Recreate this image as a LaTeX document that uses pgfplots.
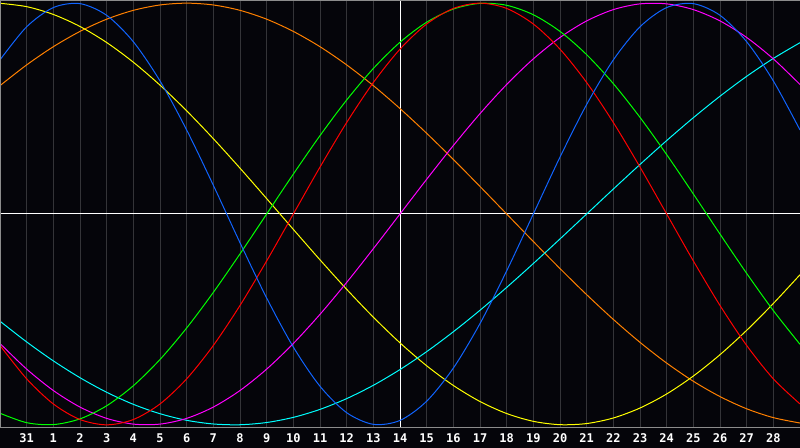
\documentclass[border=0pt]{standalone}
\usepackage{fontspec}
\setmonofont{DejaVu Sans Mono}
\usepackage{pgfplots}
\usepackage{pgfplotstable}
\pgfplotsset{compat=1.18}
\definecolor{bg}{RGB}{5,5,10}
\definecolor{gridc}{RGB}{52,52,56}
\definecolor{bordc}{RGB}{140,140,140}
\definecolor{cphys}{RGB}{16,100,255}
\definecolor{cemo}{RGB}{255,0,0}
\definecolor{cint}{RGB}{0,255,0}
\definecolor{cintu}{RGB}{255,0,255}
\definecolor{caes}{RGB}{255,255,0}
\definecolor{cawa}{RGB}{255,128,0}
\definecolor{cspi}{RGB}{0,255,255}
\pgfplotstableread{
u  phys    emo     int     intu    aes     awa     spi
0  0.7309  -0.6235 -0.9450 -0.6142 0.9993  0.6088  -0.5085
1  0.8879  -0.7818 -0.9898 -0.7357 0.9834  0.7071  -0.6068
2  0.9791  -0.9010 -0.9989 -0.8372 0.9464  0.7934  -0.6966
3  0.9977  -0.9749 -0.9718 -0.9158 0.8894  0.8660  -0.7765
4  0.9423  -1.0000 -0.9096 -0.9694 0.8133  0.9239  -0.8456
5  0.8170  -0.9749 -0.8146 -0.9966 0.7199  0.9659  -0.9028
6  0.6311  -0.9010 -0.6901 -0.9966 0.6112  0.9914  -0.9473
7  0.3984  -0.7818 -0.5406 -0.9694 0.4894  1.0000  -0.9786
8  0.1362  -0.6235 -0.3717 -0.9158 0.3572  0.9914  -0.9960
9  -0.1362 -0.4339 -0.1893 -0.8372 0.2174  0.9659  -0.9996
10 -0.3984 -0.2225 0.0000  -0.7357 0.0730  0.9239  -0.9890
11 -0.6311 0.0000  0.1893  -0.6142 -0.0730 0.8660  -0.9646
12 -0.8170 0.2225  0.3717  -0.4759 -0.2174 0.7934  -0.9267
13 -0.9423 0.4339  0.5406  -0.3247 -0.3572 0.7071  -0.8757
14 -0.9977 0.6235  0.6901  -0.1646 -0.4894 0.6088  -0.8125
15 -0.9791 0.7818  0.8146  0.0000  -0.6112 0.5000  -0.7378
16 -0.8879 0.9010  0.9096  0.1646  -0.7199 0.3827  -0.6529
17 -0.7309 0.9749  0.9718  0.3247  -0.8133 0.2588  -0.5586
18 -0.5196 1.0000  0.9989  0.4759  -0.8894 0.1305  -0.4566
19 -0.2698 0.9749  0.9898  0.6142  -0.9464 0.0000  -0.3482
20 0.0000  0.9010  0.9450  0.7357  -0.9834 -0.1305 -0.2349
21 0.2698  0.7818  0.8660  0.8372  -0.9993 -0.2588 -0.1183
22 0.5196  0.6235  0.7557  0.9158  -0.9940 -0.3827 0.0000
23 0.7309  0.4339  0.6182  0.9694  -0.9675 -0.5000 0.1183
24 0.8879  0.2225  0.4582  0.9966  -0.9203 -0.6088 0.2349
25 0.9791  0.0000  0.2817  0.9966  -0.8536 -0.7071 0.3482
26 0.9977  -0.2225 0.0951  0.9694  -0.7686 -0.7934 0.4566
27 0.9423  -0.4339 -0.0951 0.9158  -0.6673 -0.8660 0.5586
28 0.8170  -0.6235 -0.2817 0.8372  -0.5518 -0.9239 0.6529
29 0.6311  -0.7818 -0.4582 0.7357  -0.4244 -0.9659 0.7378
30 0.3984  -0.9010 -0.6182 0.6142  -0.2881 -0.9914 0.8125
}\biodata
\begin{document}
\begin{tikzpicture}
\fill[bg] (0,0) rectangle (600pt,336pt);
\begin{axis}[
  at={(0pt,15pt)}, anchor=south west,
  width=600pt, height=321pt, scale only axis,
  xmin=0, xmax=30, ymin=-1.015, ymax=1.015,
  axis line style={draw=none},
  xtick={1,...,29},
  xticklabels={31,1,2,3,4,5,6,7,8,9,10,11,12,13,14,15,16,17,18,19,20,21,22,23,24,25,26,27,28},
  ytick=\empty,
  major tick length=0pt,
  xmajorgrids,
  grid style={draw=gridc, line width=0.75pt},
  xticklabel style={font=\ttfamily\bfseries\fontsize{9}{9}\selectfont, text=white, anchor=base, yshift=-10.6pt, inner sep=0pt},
  every axis plot/.append style={line width=0.75pt, smooth},
]
\draw[white, line width=0.75pt] (axis cs:15,-1.1) -- (axis cs:15,1.1);
\draw[white, line width=0.75pt] (axis cs:0,0) -- (axis cs:30,0);
\addplot[cawa] table[x=u,y=awa]{\biodata};
\addplot[caes] table[x=u,y=aes]{\biodata};
\addplot[cspi] table[x=u,y=spi]{\biodata};
\addplot[cintu] table[x=u,y=intu]{\biodata};
\addplot[cint] table[x=u,y=int]{\biodata};
\addplot[cemo] table[x=u,y=emo]{\biodata};
\addplot[cphys] table[x=u,y=phys]{\biodata};
\end{axis}
\draw[bordc, line width=0.75pt] (0.375pt,15pt) -- (0.375pt,336pt);
\draw[bordc, line width=0.75pt] (0pt,335.625pt) -- (600pt,335.625pt);
\draw[bordc, line width=0.75pt] (0pt,15pt) -- (600pt,15pt);
\pgfresetboundingbox
\useasboundingbox (0,0) rectangle (600pt,336pt);
\end{tikzpicture}
\end{document}
